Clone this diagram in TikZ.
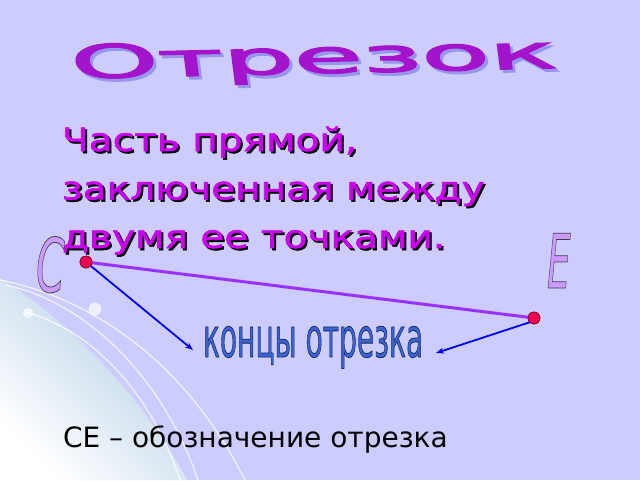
\documentclass[tikz,border=0pt]{standalone}
\usepackage{fontspec}
\setmainfont{DejaVu Sans}
\usetikzlibrary{arrows.meta}
\definecolor{bg}{RGB}{204,204,255}
\definecolor{mag}{RGB}{200,0,235}
\definecolor{ttl}{RGB}{165,20,205}
\definecolor{seg}{RGB}{153,51,255}
\definecolor{dotc}{RGB}{240,0,80}
\definecolor{arr}{RGB}{0,0,240}
\definecolor{lbl}{RGB}{58,100,210}
\definecolor{lav}{RGB}{204,153,255}
\definecolor{lightblue}{RGB}{178,204,230}
\newcommand\strk[3][0.8]{\special{pdf:literal direct #2 RG 2 Tr #1 w}#3\special{pdf:literal direct 0 Tr}}
\begin{document}
\begin{tikzpicture}[x=1pt,y=-1pt,
  every node/.style={inner sep=0pt,outer sep=0pt},
  maintext/.style={font=\fontsize{32}{48.5}\selectfont,align=left,anchor=base west,xscale=1.22},
  endpt/.style={circle,draw={rgb,255:red,120;green,0;blue,40},line width=0.6pt,fill=dotc,minimum size=12pt},
  pointer/.style={arr,line width=1.8pt,-{Stealth[length=8pt,width=6pt]}},
  wline/.style={white,opacity=0.75,line width=1.3pt}]
\useasboundingbox (0,0) rectangle (640,480);
\fill[bg] (0,0) rectangle (640,480);
% decorative bottom-left
\shade[shading=axis,top color=lightblue,bottom color=white,shading angle=-45]
  (0,278) .. controls (60,315) and (140,390) .. (187,480) -- (0,480) -- cycle;
\draw[wline] (0,280) .. controls (100,300) and (190,370) .. (245,480);
\draw[wline] (5,285) .. controls (80,300) and (160,370) .. (198,480);
\draw[wline] (28,313) .. controls (90,330) and (150,390) .. (180,480);
\fill[white,opacity=0.7] (95,309) circle (6.5);
\fill[white,opacity=0.7] (28,313) circle (5);
% title
\node[font=\fontsize{46}{46}\selectfont,text={rgb,255:red,150;green,150;blue,235},xscale=2.42,rotate=3] (titleshadow) at (317,64) {\strk[1.2]{0.59 0.59 0.92}{Отрезок}};
\node[font=\fontsize{46}{46}\selectfont,text=ttl,xscale=2.42,rotate=3] (title) at (314,61) {\strk[1.2]{0.647 0.078 0.804}{Отрезок}};
% main text
\node[maintext,text=black] (defshadow) at (64,250) {\strk[0.5]{0 0 0}{Часть прямой,\\заключенная между\\двумя ее точками.}};
\node[maintext,text=mag] (def) at (62,248) {\strk[0.5]{0.784 0 0.922}{Часть прямой,\\заключенная между\\двумя ее точками.}};
% letters
\node[anchor=base west,font=\fontsize{75}{75}\itshape,text=lav,xscale=0.55] (Cl) at (36,292) {\strk{0.25 0.25 0.25}{C}};
\node[anchor=base west,font=\fontsize{75}{75}\itshape,text=lav,xscale=0.5] (El) at (547,288) {\strk{0.25 0.25 0.25}{E}};
% points and segment
\node[endpt] (C) at (86,262) {};
\node[endpt] (E) at (534,318) {};
\draw[seg,line width=3pt] (C) -- (E);
\coordinate (a1) at (193,350);
\coordinate (a2) at (436,353);
\draw[pointer] (C.center) -- (a1);
\draw[pointer] (E.south west) -- (a2);
\node[endpt] (C2) at (C) {};
\node[endpt] (E2) at (E) {};
% label
\node[anchor=base west,font=\fontsize{55}{55}\selectfont,text=lbl,xscale=0.51] (ends) at (203,357) {\strk{0.1 0.15 0.35}{концы отрезка}};
% bottom
\node[anchor=base west,font=\fontsize{28}{30}\selectfont,text=black] (notation) at (63,447) {СЕ – обозначение отрезка};
\end{tikzpicture}
\end{document}
